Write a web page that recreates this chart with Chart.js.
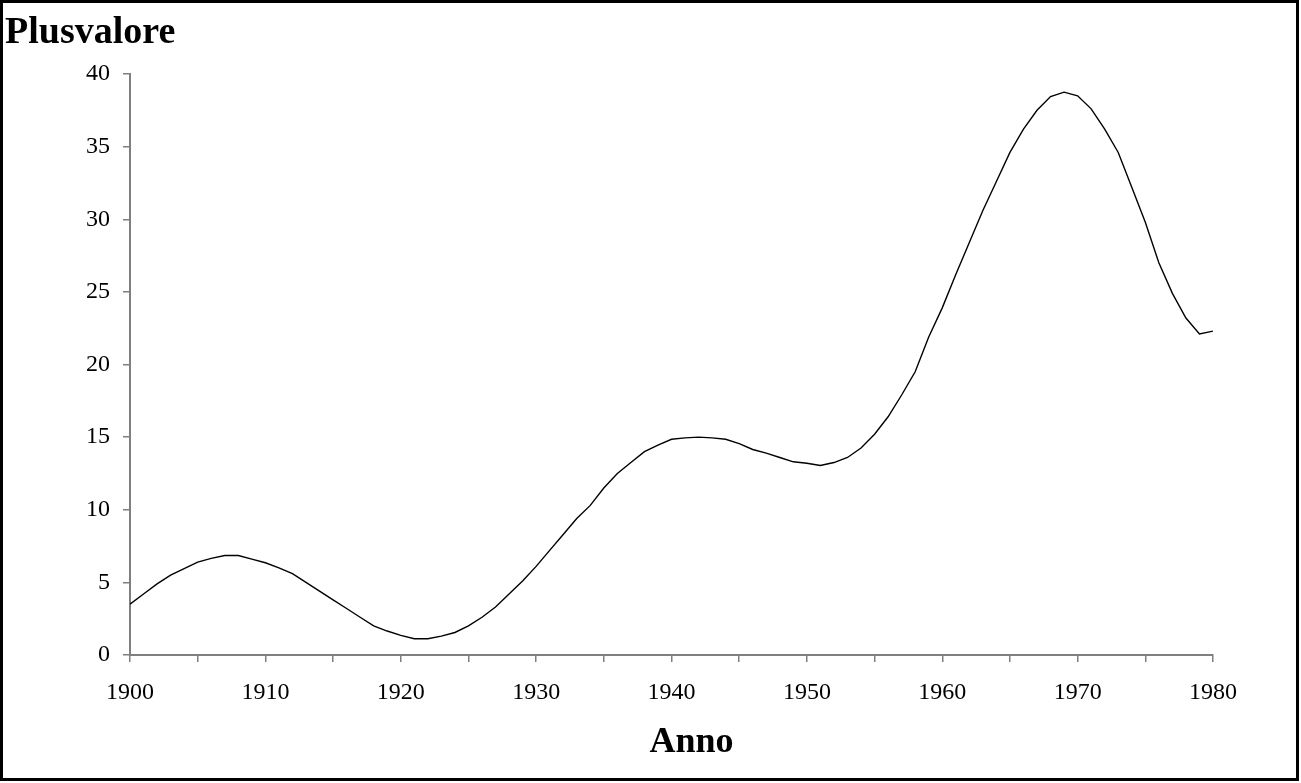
<!DOCTYPE html>
<html>
<head>
<meta charset="utf-8">
<script src="https://cdn.jsdelivr.net/npm/chart.js@4"></script>
<style>
  html, body { margin:0; padding:0; background:#fff; }
  canvas { display:block; }
</style>
</head>
<body>
<canvas id="chart" width="1301" height="783"></canvas>
<script>
// data, one value per year
const years = [];
for (let y = 1900; y <= 1980; y++) years.push(y);
const plusvalore = [
  3.5, 4.2, 4.9, 5.5, 5.95, 6.4, 6.65, 6.85, 6.85, 6.6,       // 1900-1909
  6.35, 6.0, 5.6, 5.0, 4.4, 3.8, 3.2, 2.6, 2.0, 1.65,         // 1910-1919
  1.35, 1.12, 1.12, 1.3, 1.55, 2.0, 2.6, 3.3, 4.2, 5.1,       // 1920-1929
  6.1, 7.2, 8.3, 9.4, 10.3, 11.5, 12.5, 13.25, 14.0, 14.45,   // 1930-1939
  14.85, 14.95, 15.0, 14.95, 14.85, 14.55, 14.15, 13.9, 13.6, 13.3, // 1940-1949
  13.2, 13.05, 13.25, 13.6, 14.25, 15.2, 16.4, 17.9, 19.5, 21.9,    // 1950-1959
  23.9, 26.2, 28.4, 30.6, 32.6, 34.6, 36.2, 37.5, 38.45, 38.75,     // 1960-1969
  38.5, 37.6, 36.2, 34.6, 32.2, 29.8, 27.0, 24.9, 23.2, 22.1,       // 1970-1979
  22.3                                                               // 1980
];
const yTicks = [0, 5, 10, 15, 20, 25, 30, 35, 40];
const xLabelStep = 10;
const yTitle = 'Plusvalore';
const xTitle = 'Anno';

const serif = '"Liberation Serif", "Times New Roman", serif';
const axisGray = '#7f7f7f';

const frameAndTitles = {
  id: 'frameAndTitles',
  beforeDraw(chart) {
    const c = chart.ctx;
    c.save();
    c.fillStyle = '#fff';
    c.fillRect(0, 0, chart.width, chart.height);
    c.restore();
  },
  afterDraw(chart) {
    const c = chart.ctx, a = chart.chartArea;
    c.save();
    c.strokeStyle = '#000';
    c.lineWidth = 3;
    c.strokeRect(1.5, 1.5, chart.width - 5, chart.height - 5);
    c.fillStyle = '#000';
    c.font = 'bold 38px ' + serif;
    c.textBaseline = 'alphabetic';
    c.textAlign = 'left';
    c.fillText(yTitle, 5, 43);
    c.font = 'bold 36px ' + serif;
    c.textAlign = 'center';
    c.fillText(xTitle, (a.left + a.right) / 2 + 20, 752);
    c.restore();
  }
};

new Chart(document.getElementById('chart').getContext('2d'), {
  type: 'line',
  data: {
    datasets: [{
      label: yTitle,
      data: years.map((y, i) => ({ x: y, y: plusvalore[i] })),
      borderColor: '#000',
      borderWidth: 1.4,
      pointRadius: 0,
      tension: 0,
      fill: false
    }]
  },
  options: {
    responsive: false,
    devicePixelRatio: 1,
    animation: false,
    layout: { padding: { left: 0, top: 74, right: 88, bottom: 0 } },
    plugins: { legend: { display: false }, tooltip: { enabled: false } },
    scales: {
      x: {
        type: 'linear',
        min: years[0],
        max: years[years.length - 1],
        afterFit(s) { s.height = 128; },
        border: { display: true, color: axisGray, width: 2 },
        grid: { drawOnChartArea: false, drawTicks: true, tickLength: 7, color: axisGray, lineWidth: 1.5 },
        ticks: {
          stepSize: 5,
          maxRotation: 0,
          autoSkip: false,
          padding: 16,
          color: '#000',
          font: { family: serif, size: 24 },
          callback: v => (v % xLabelStep === 0 ? String(v) : '')
        }
      },
      y: {
        min: yTicks[0],
        max: yTicks[yTicks.length - 1],
        afterFit(s) { s.width = 130; },
        afterBuildTicks(s) { s.ticks = yTicks.map(v => ({ value: v })); },
        border: { display: true, color: axisGray, width: 2 },
        grid: { drawOnChartArea: false, drawTicks: true, tickLength: 7, color: axisGray, lineWidth: 1.5 },
        ticks: {
          padding: 13,
          color: '#000',
          font: { family: serif, size: 24 }
        }
      }
    }
  },
  plugins: [frameAndTitles]
});
</script>
</body>
</html>
